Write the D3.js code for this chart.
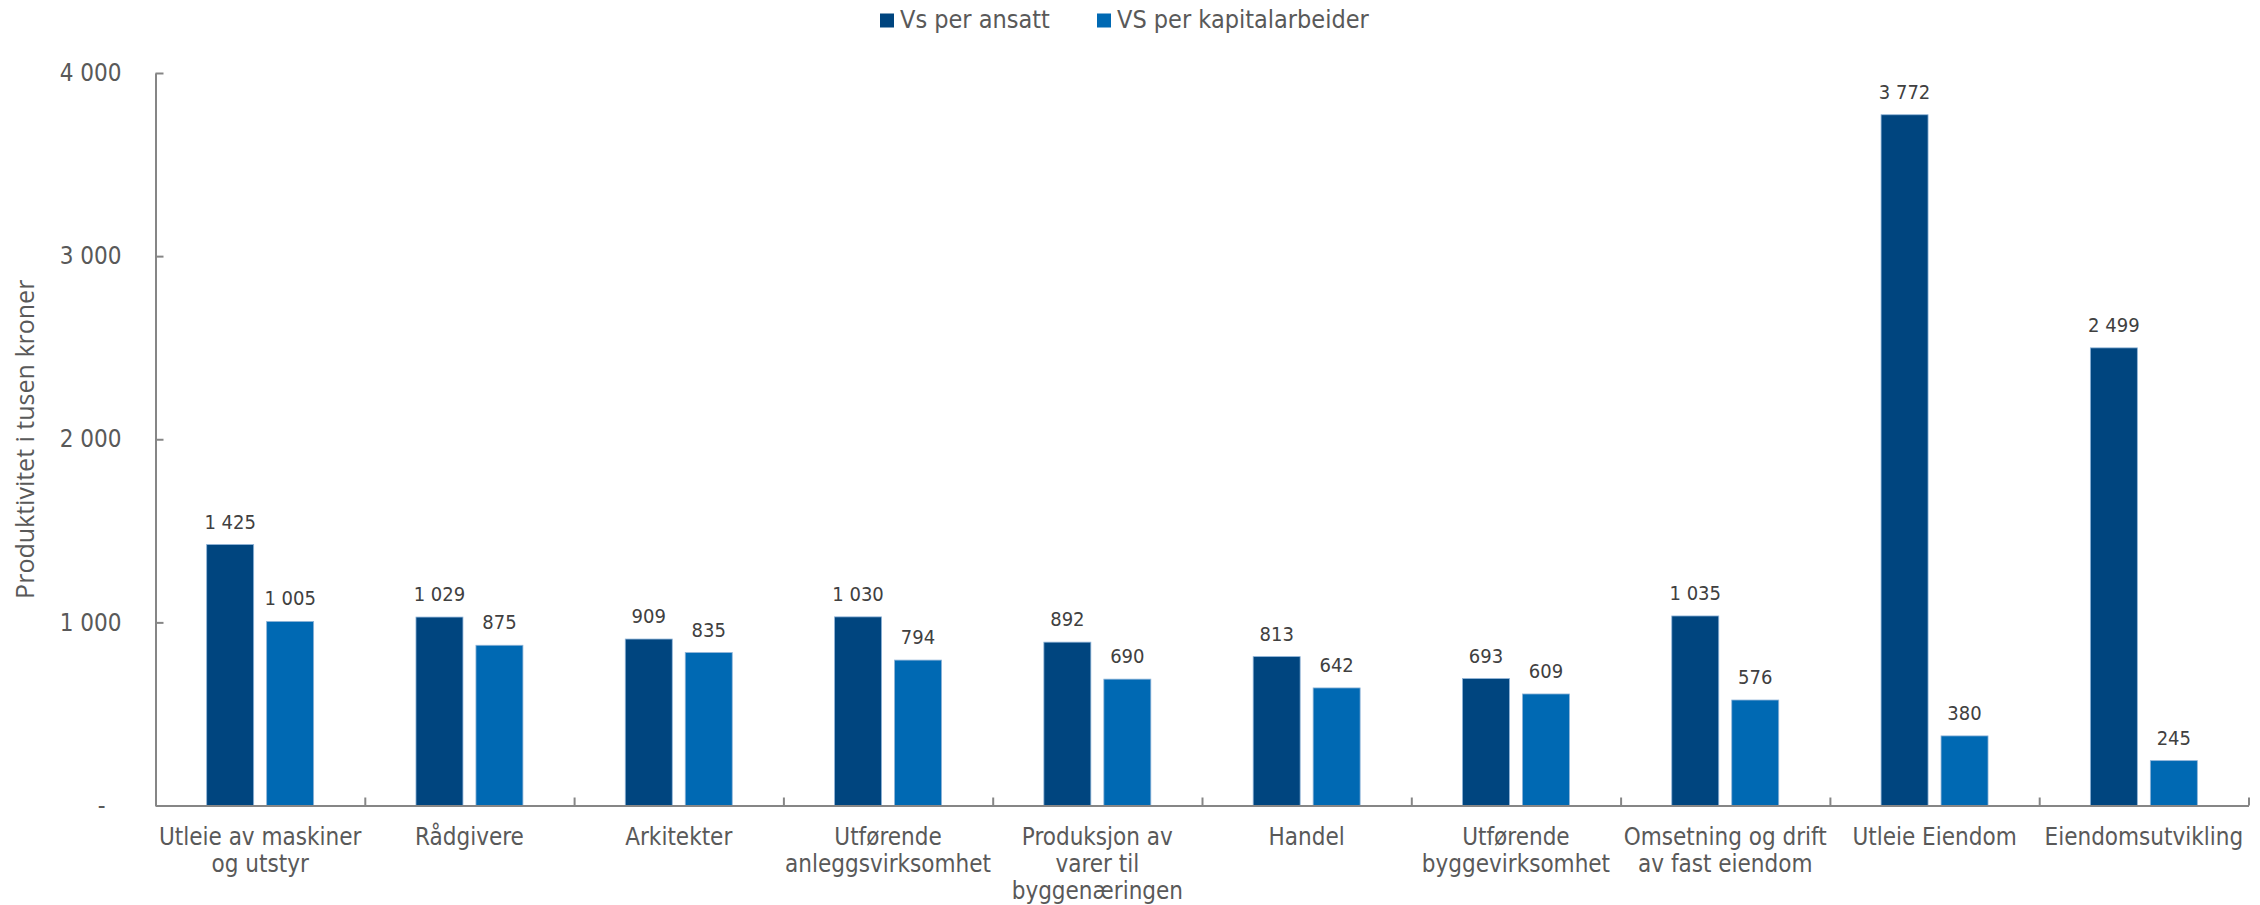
<!DOCTYPE html>
<html>
<head>
<meta charset="utf-8">
<script src="https://cdn.jsdelivr.net/npm/d3@7"></script>
<style>
  html, body { margin: 0; padding: 0; background: #ffffff; }
  svg { display: block; }
</style>
</head>
<body>
<svg id="chart" width="2260" height="905"></svg>
<script>
// ---- data ----
const categories = [
  "Utleie av maskiner\nog utstyr",
  "Rådgivere",
  "Arkitekter",
  "Utførende\nanleggsvirksomhet",
  "Produksjon av\nvarer til\nbyggenæringen",
  "Handel",
  "Utførende\nbyggevirksomhet",
  "Omsetning og drift\nav fast eiendom",
  "Utleie Eiendom",
  "Eiendomsutvikling"
];
const seriesNames = ["Vs per ansatt", "VS per kapitalarbeider"];
const vsPerAnsatt = [1425, 1029, 909, 1030, 892, 813, 693, 1035, 3772, 2499];
const vsPerKapitalarbeider = [1005, 875, 835, 794, 690, 642, 609, 576, 380, 245];
const yTicks = [0, 1000, 2000, 3000, 4000];
const yTitle = "Produktivitet i tusen kroner";

// ---- styles ----
const colors = ["#00457f", "#0069b3"];
const labelFont = "'DejaVu Sans Condensed', 'DejaVu Sans', sans-serif";
const textColor = "#595959";
const axisColor = "#868686";

const svg = d3.select("#chart");
const plotLeft = 155.5, plotRight = 2248.5, plotTop = 73, plotBottom = 805.5;

const series = [vsPerAnsatt, vsPerKapitalarbeider];
const rows = categories.map((c, i) => ({ cat: c, values: series.map((s, k) => ({ k, v: s[i] })) }));

const x = d3.scaleBand().domain(categories).range([plotLeft, plotRight]).padding(0);
const bw = x.bandwidth();
const x1 = d3.scaleBand().domain([0, 1]).range([bw * 0.2445, bw * 0.7555]).paddingInner(0.2167).paddingOuter(0);
const y = d3.scaleLinear().domain([0, 4000]).range([plotBottom, plotTop]);

const locale = d3.formatLocale({ decimal: ",", thousands: " ", grouping: [3], currency: ["", " kr"] });
const fmt = locale.format(",d");

// ---- bars ----
const groups = svg.append("g").selectAll("g").data(rows).join("g")
  .attr("transform", d => `translate(${x(d.cat)},0)`);

groups.selectAll("rect").data(d => d.values).join("rect")
  .attr("x", d => x1(d.k))
  .attr("width", x1.bandwidth())
  .attr("y", d => y(d.v))
  .attr("height", d => y(0) - y(d.v))
  .attr("fill", d => colors[d.k])
  .attr("stroke", "#8fb4d8")
  .attr("stroke-width", 0.8);

groups.selectAll("text.val").data(d => d.values).join("text")
  .attr("class", "val")
  .attr("x", d => x1(d.k) + x1.bandwidth() / 2)
  .attr("y", d => y(d.v) - 16)
  .attr("text-anchor", "middle")
  .attr("font-family", labelFont)
  .attr("font-size", 20)
  .attr("fill", "#404040")
  .text(d => fmt(d.v));

// ---- y axis ----
const yAxis = svg.append("g")
  .attr("transform", `translate(${plotLeft},0)`)
  .call(d3.axisLeft(y).tickValues(yTicks).tickSize(-8).tickSizeOuter(0).tickPadding(34)
    .tickFormat(d => d === 0 ? "-" : fmt(d)));
yAxis.select(".domain").attr("stroke", axisColor).attr("stroke-width", 2);
yAxis.selectAll(".tick line").attr("stroke", axisColor).attr("stroke-width", 2);
yAxis.selectAll(".tick text")
  .attr("font-family", labelFont)
  .attr("font-size", 24)
  .attr("fill", textColor)
  .attr("dx", d => d === 0 ? -16 : 0);

// ---- x axis (ticks at category boundaries) ----
const xb = d3.scaleLinear().domain([0, categories.length]).range([plotLeft, plotRight]);
const xAxis = svg.append("g")
  .attr("transform", `translate(0,${plotBottom})`)
  .call(d3.axisBottom(xb).tickValues(d3.range(1, categories.length + 1)).tickSize(-8).tickSizeOuter(0).tickFormat(""));
xAxis.select(".domain").attr("stroke", axisColor).attr("stroke-width", 2);
xAxis.selectAll(".tick line").attr("stroke", axisColor).attr("stroke-width", 2);

// category labels
const catLabels = svg.append("g").selectAll("text").data(categories).join("text")
  .attr("x", d => x(d) + bw / 2)
  .attr("y", 845)
  .attr("text-anchor", "middle")
  .attr("font-family", labelFont)
  .attr("font-size", 24)
  .attr("fill", textColor);
catLabels.selectAll("tspan").data(d => d.split("\n")).join("tspan")
  .attr("x", function () { return d3.select(this.parentNode).attr("x"); })
  .attr("dy", (d, i) => i === 0 ? 0 : 27)
  .text(d => d);

// ---- y title ----
svg.append("text")
  .attr("transform", `translate(34,${(plotTop + plotBottom) / 2}) rotate(-90)`)
  .attr("text-anchor", "middle")
  .attr("font-family", "'Open Sans', sans-serif")
  .attr("font-size", 25)
  .attr("fill", textColor)
  .text(yTitle);

// ---- legend ----
const legendX = [880, 1097];
const legend = svg.append("g").selectAll("g").data(seriesNames).join("g")
  .attr("transform", (d, i) => `translate(${legendX[i]},0)`);
legend.append("rect")
  .attr("x", 0).attr("y", 13.5).attr("width", 14).attr("height", 14)
  .attr("fill", (d, i) => colors[i]);
legend.append("text")
  .attr("x", 20).attr("y", 28)
  .attr("font-family", labelFont)
  .attr("font-size", 25)
  .attr("fill", textColor)
  .text(d => d);
</script>
</body>
</html>
